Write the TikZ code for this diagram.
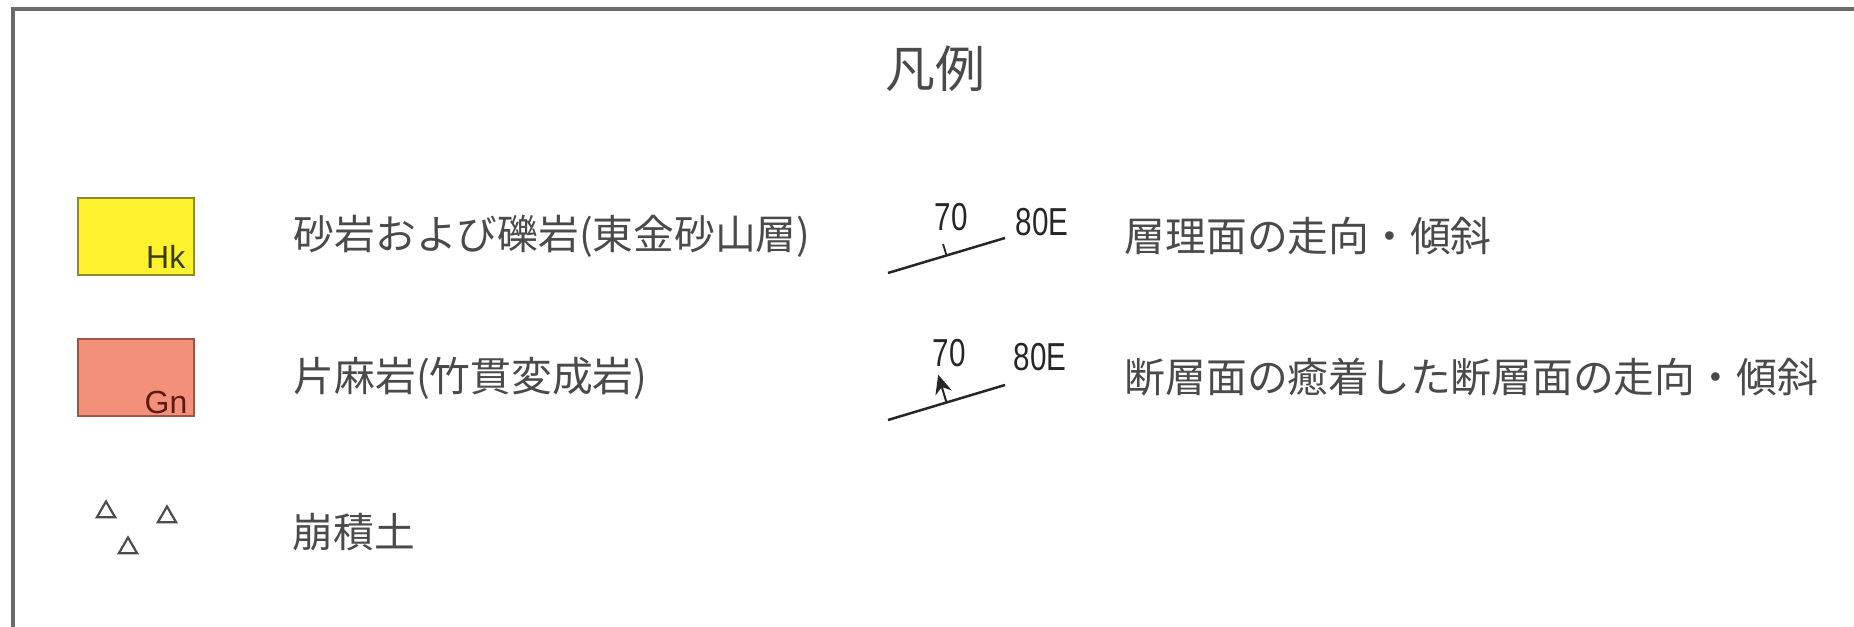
\documentclass[tikz,border=0pt]{standalone}
\usepackage{fontspec}
\setmainfont{Liberation Sans}
\newfontfamily\jpfont{Noto Sans CJK JP}
\newfontfamily\numfont[FakeStretch=0.76]{Liberation Sans}
\usetikzlibrary{arrows.meta, positioning, calc, shapes.geometric}
\definecolor{hkfill}{HTML}{FFF22E}
\definecolor{hkedge}{HTML}{8C8A2A}
\definecolor{hktext}{HTML}{3C3C08}
\definecolor{gnfill}{HTML}{F2907A}
\definecolor{gnedge}{HTML}{9A5646}
\definecolor{gntext}{HTML}{5E1A10}
\definecolor{framegray}{HTML}{6A6A6A}
\definecolor{inkgray}{HTML}{4A4A4A}

\begin{document}
\begin{tikzpicture}[
  x=0.1mm, y=-0.1mm,
  desc/.style={font=\jpfont\fontsize{11.6pt}{14pt}\selectfont, text=inkgray,
               inner sep=0pt, anchor=west},
  ttl/.style={font=\jpfont\fontsize{14.2pt}{17pt}\selectfont, text=inkgray, inner sep=0pt},
  unitbox/.style={draw, line width=0.2mm, minimum width=11.6mm, minimum height=7.7mm,
                  inner sep=0pt},
  unitlab/.style={font=\fontsize{9.1pt}{10pt}\selectfont, inner sep=0pt, anchor=base east},
  num/.style={font=\numfont\fontsize{11.1pt}{12pt}\selectfont, text=black!85, inner sep=0pt},
  strike/.style={line width=0.25mm, draw=black!85},
  tri/.style={draw=black!70, line width=0.22mm, regular polygon, regular polygon sides=3,
              minimum size=2.1mm, inner sep=0pt},
  frame/.style={draw=framegray, line width=0.4mm},
]
\useasboundingbox (0,0) rectangle (1854,627);
\draw[frame] (1900,9) -| (12.5,700);

%% title
\node[ttl] (title) at (935,69) {凡例};

%% rock units
\node[unitbox, fill=hkfill, draw=hkedge] (hk) at (136,236.5) {};
\node[unitlab, text=hktext] (hklab) at ([xshift=-0.9mm, yshift=0.7mm]hk.south east) {Hk};
\node[desc, right=9.8mm of hk] (hkdesc) {砂岩および礫岩(東金砂山層)};

\node[unitbox, fill=gnfill, draw=gnedge] (gn) at (136,378) {};
\node[unitlab, text=gntext] (gnlab) at ([xshift=-0.7mm, yshift=0.4mm]gn.south east) {Gn};
\node[desc, right=9.8mm of gn] (gndesc) {片麻岩(竹貫変成岩)};

%% talus
\node[tri] (t1) at (106,512) {};
\node[tri] (t2) at (167,517) {};
\node[tri] (t3) at (128,548) {};
\node[desc] (coldesc) at (292,532) {崩積土};

%% bedding
\coordinate (s1w) at (888,273);
\coordinate (s1e) at (1005,238);
\coordinate (s1m) at ($(s1w)!0.5!(s1e)$);
\draw[strike] (s1w) -- (s1e);
\draw[strike, line width=0.18mm] (s1m) -- ($(s1m)!1.2mm!90:(s1e)$);
\node[num] (dip1) at (951,217) {70};
\node[num] (dir1) at (1042,222) {80E};
\node[desc] (beddesc) at (1124,236) {層理面の走向・傾斜};

%% healed fault
\coordinate (s2w) at (888,420);
\coordinate (s2e) at (1005,385);
\coordinate (s2m) at ($(s2w)!0.5!(s2e)$);
\draw[strike] (s2w) -- (s2e);
\draw[strike, line width=0.2mm, -{Stealth[length=1.9mm, width=1.7mm]}]
  (s2m) -- ($(s2m)!2.9mm!90:(s2e)$);
\node[num] (dip2) at (949,353) {70};
\node[num] (dir2) at (1040,357) {80E};
\node[desc] (fltdesc) at (1124,377) {断層面の癒着した断層面の走向・傾斜};
\end{tikzpicture}
\end{document}
